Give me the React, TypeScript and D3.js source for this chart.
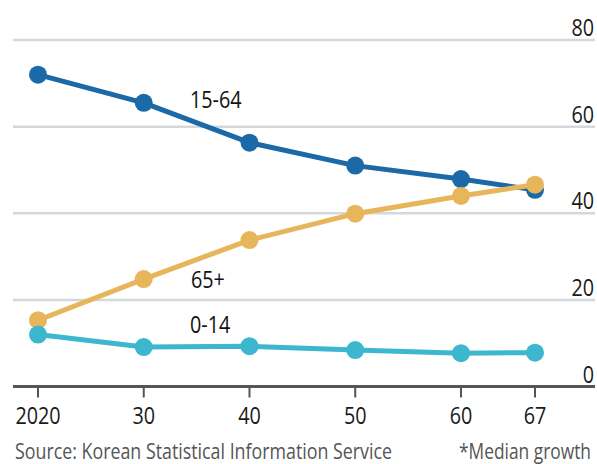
import React from "react";
import * as d3 from "d3";

const years = [2020, 2030, 2040, 2050, 2060, 2067];
const tickLabels = ["2020", "30", "40", "50", "60", "67"];
const working = [72, 65.5, 56.3, 51, 47.9, 45.4];
const elderly = [15.3, 24.8, 33.8, 39.9, 44, 46.6];
const children = [12, 9.1, 9.3, 8.4, 7.7, 7.8];
const yTicks = [0, 20, 40, 60, 80];

const W = 597;
const H = 464;
const FONT = "'Open Sans', 'Noto Sans', sans-serif";
const SX = 0.86;

function T({ x, y, anchor = "start", size = 23, fill = "#1a1a1a", children }: any) {
  return (
    <text
      transform={`translate(${x},${y}) scale(${SX},1)`}
      textAnchor={anchor}
      fontSize={size}
      fill={fill}
    >
      {children}
    </text>
  );
}

export default function App() {
  const x = d3.scaleLinear().domain([2020, 2067]).range([38, 535]);
  const y = d3.scaleLinear().domain([0, 80]).range([386.5, 40]);
  const line = d3
    .line<number>()
    .x((_, i) => x(years[i]))
    .y((d) => y(d));

  const series = [
    { name: "15-64", data: working, color: "#1b69a6", lx: 190, ly: 108 },
    { name: "65+", data: elderly, color: "#e8b65a", lx: 191, ly: 288 },
    { name: "0-14", data: children, color: "#3db6d0", lx: 190, ly: 333 },
  ];

  return (
    <svg
      width={W}
      height={H}
      style={{ position: "absolute", left: 0, top: 0, background: "#fff" }}
      fontFamily={FONT}
    >
      <rect width={W} height={H} fill="#fff" />
      {yTicks
        .filter((t) => t > 0)
        .map((t) => (
          <line key={t} x1={13} x2={595} y1={y(t)} y2={y(t)} stroke="#d3d8dc" strokeWidth={2.5} />
        ))}
      {yTicks.map((t) => (
        <T key={t} x={594} y={y(t) - 4} anchor="end">
          {t}
        </T>
      ))}
      <line x1={13} x2={595} y1={y(0)} y2={y(0)} stroke="#555" strokeWidth={3} />
      {years.map((yr, i) => (
        <g key={yr}>
          <line x1={x(yr)} x2={x(yr)} y1={y(0)} y2={y(0) + 11} stroke="#555" strokeWidth={2} />
          <T x={x(yr)} y={424} anchor="middle">
            {tickLabels[i]}
          </T>
        </g>
      ))}
      {series.map((s) => (
        <g key={s.name}>
          <path d={line(s.data) || ""} fill="none" stroke={s.color} strokeWidth={5} strokeLinejoin="round" />
          {s.data.map((v, i) => (
            <circle key={i} cx={x(years[i])} cy={y(v)} r={9} fill={s.color} />
          ))}
        </g>
      ))}
      {series.map((s) => (
        <T key={s.name + "l"} x={s.lx} y={s.ly} fill="#111">
          {s.name}
        </T>
      ))}
      <text x={15} y={459} fontSize={22} fill="#555" textLength={377} lengthAdjust="spacingAndGlyphs">
        Source: Korean Statistical Information Service
      </text>
      <text x={459} y={459} fontSize={22} fill="#555" textLength={132} lengthAdjust="spacingAndGlyphs">
        *Median growth
      </text>
    </svg>
  );
}
